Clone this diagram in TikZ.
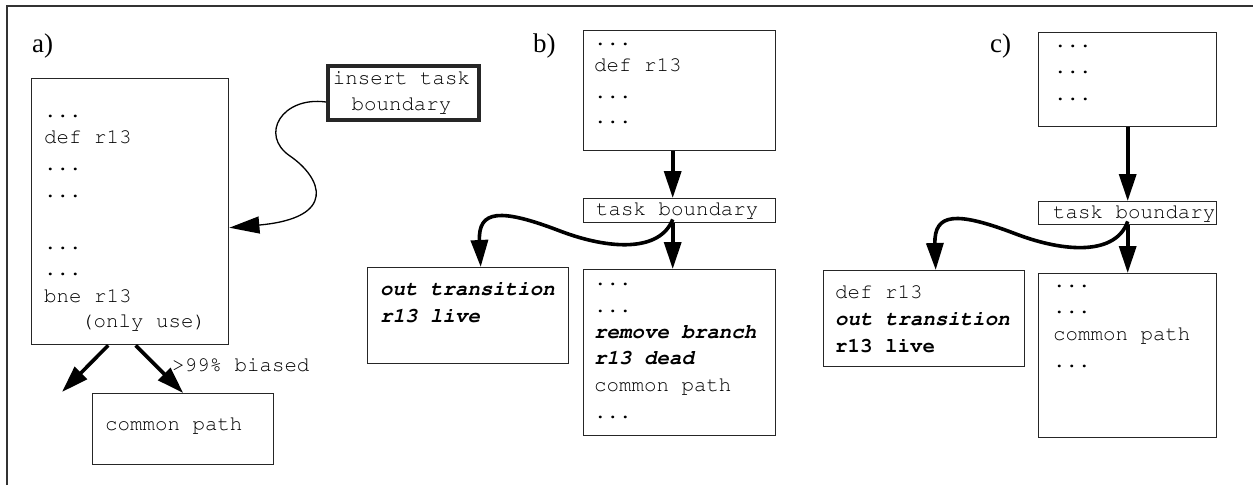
\documentclass[tikz,border=0pt]{standalone}
\usepackage[T1]{fontenc}
\usepackage{fontspec}
\setmainfont{Liberation Serif}
\usetikzlibrary{arrows.meta}
\newcommand\codefont{\fontencoding{T1}\fontfamily{pcr}\fontsize{20.8}{25}\selectfont}
\newcommand\dd{...}
\newcommand\bi[1]{\textbf{\textit{#1}}}
\begin{document}
\begin{tikzpicture}[x=1pt,y=-1pt,
  box/.style={draw=black!85, line width=1.4pt, inner sep=0pt, anchor=north west},
  ln/.style={anchor=base west, inner sep=0pt, font=\codefont},
  tag/.style={anchor=base west, inner sep=0pt, font=\fontsize{27}{30}\selectfont},
  heavy/.style={line width=3.6pt, -{Triangle[length=27pt,width=17pt]}},
  light/.style={line width=1.3pt, -{Triangle[length=30pt,width=17pt]}}]
\useasboundingbox (0,0) rectangle (1253,485);
% frame
\draw[line width=2pt, black!80] (7,485) -- (7,6) -- (1253,6);

% ---------- a) ----------
\node[tag] (la) at (32,52) {a)};
\node[box, minimum width=197pt, minimum height=266pt] (A) at (31,78) {};
\foreach \y/\t [count=\i] in {117/\dd, 143/def r13, 170/\dd, 197/\dd, 249/\dd, 275/\dd, 302/bne r13}
  \node[ln] (at\i) at (44,\y) {\t};
\node[ln] (ause) at (81,327) {(only use)};

\node[box, line width=4pt, minimum width=151pt, minimum height=54pt] (ins) at (326,64) {};
\node[ln, anchor=base] (ins1) at (401.5,84) {insert task};
\node[ln, anchor=base] (ins2) at (401.5,110) {boundary};

\node[box, minimum width=181pt, minimum height=71pt] (cp) at (92,393) {};
\node[ln] (cpt) at (105,430) {common path};
\node[ln] (bias) at (172,371) {>99\% biased};

\coordinate (aleft) at (62,392);
\draw[heavy] ([xshift=-22pt]A.south) -- (aleft);
\draw[heavy] ([xshift=5.5pt]A.south) -- (cp.north);
\draw[light] ([yshift=-9pt]ins.west) .. controls (282,96) and (259,135) .. (290,156)
  .. controls (322,178) and (338,218) .. ([yshift=-16pt]A.east);

% ---------- b) ----------
\node[tag] (lb) at (533,52) {b)};
\node[box, minimum width=192pt, minimum height=120pt] (bt) at (583,30) {};
\foreach \y/\t [count=\i] in {45/\dd, 71/def r13, 98/\dd, 123/\dd}
  \node[ln] (bt\i) at (594,\y) {\t};
\node[box, minimum width=192pt, minimum height=24pt] (tbb) at (583,198) {};
\node[ln] (tbbt) at (596,215) {task boundary};
\node[box, minimum width=201pt, minimum height=96pt] (ob) at (367,267) {};
\node[ln] (ob1) at (380,295) {\bi{out transition}};
\node[ln] (ob2) at (380,322) {\bi{r13 live}};
\node[box, minimum width=192pt, minimum height=166pt] (bb) at (583,269) {};
\foreach \y/\t [count=\i] in {285/\dd, 312/\dd, 338/\bi{remove branch}, 364/\bi{r13 dead}, 391/common path, 418/\dd}
  \node[ln] (bb\i) at (594,\y) {\t};

\draw[heavy] ([xshift=-7pt]bt.south) -- ([xshift=-7pt]tbb.north);
\draw[heavy] ([xshift=-7pt]tbb.south) -- ([xshift=-7pt]bb.north);
\draw[heavy] ([shift={(-7,-4)}]tbb.south) .. controls (660,252) and (610,250) .. (560,231)
  .. controls (500,208) and (478,210) .. ([xshift=12.5pt]ob.north);

% ---------- c) ----------
\node[tag] (lc) at (990,52) {c)};
\node[box, minimum width=178pt, minimum height=94pt] (ct) at (1038,32) {};
\foreach \y/\t [count=\i] in {47/\dd, 73/\dd, 100/\dd}
  \node[ln] (ct\i) at (1054,\y) {\t};
\node[box, minimum width=178pt, minimum height=23pt] (tbc) at (1038,201) {};
\node[ln] (tbct) at (1053,218) {task boundary};
\node[box, minimum width=201pt, minimum height=96pt] (lcb) at (823,270) {};
\node[ln] (lc1) at (835,298) {def r13};
\node[ln] (lc2) at (835,325) {\bi{out transition}};
\node[ln] (lc3) at (835,352) {\textbf{r13 live}};
\node[box, minimum width=178pt, minimum height=164pt] (rc) at (1038,273) {};
\foreach \y/\t [count=\i] in {287/\dd, 313/\dd, 340/common path, 367/\dd}
  \node[ln] (rc\i) at (1053,\y) {\t};

\draw[heavy] (ct.south) -- (tbc.north);
\draw[heavy] (tbc.south) -- (rc.north);
\draw[heavy] ([yshift=4pt]tbc.south) .. controls (1116,255) and (1066,253) .. (1016,234)
  .. controls (956,211) and (934,213) .. ([xshift=11.5pt]lcb.north);
\end{tikzpicture}
\end{document}
